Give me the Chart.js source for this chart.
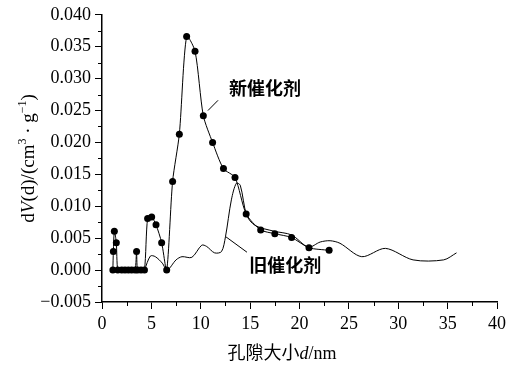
<!DOCTYPE html>
<html>
<head>
<meta charset="utf-8">
<script src="https://cdn.jsdelivr.net/npm/chart.js@4.4.1/dist/chart.umd.min.js"></script>
<style>
    html, body { margin: 0; padding: 0; background: #fff; }
    canvas { display: block; }
</style>
</head>
<body>
<canvas id="poreChart" width="521" height="365"></canvas>
<script>
// 新催化剂 (带点的曲线)
const newX = [1.1, 1.15, 1.25, 1.45, 1.6, 2.0, 2.33, 2.67, 3.0, 3.35, 3.5, 3.6, 3.95, 4.3,
    4.62, 5.03, 5.47, 6.04, 6.55, 7.15, 7.83, 8.57, 9.42, 10.26, 11.2, 12.3, 13.47,
    14.6, 16.07, 17.5, 19.2, 20.96, 23.0];
const newY = [0, 0.0029, 0.0061, 0.0043, 0, 0, 0, 0, 0, 0, 0.0029, 0, 0, 0,
    0.0081, 0.0083, 0.0071, 0.0043, 0, 0.0139, 0.0213, 0.0366, 0.0343, 0.0242, 0.0200, 0.0159, 0.0145,
    0.0088, 0.0063, 0.0057, 0.0051, 0.0035, 0.0031];

// 旧催化剂 (无点的曲线)
const oldX = [4.3, 4.9, 5.4, 6.1, 6.6, 7.5, 8.1, 9.1, 10.1, 10.6, 11.4, 12.1, 12.5, 13.1, 13.6,
    14.0, 14.65, 15.5, 17.4, 19.2, 20.9, 22.1, 23.1, 24.1, 26.3, 28.7, 31.5, 34.6, 35.9];
const oldY = [0, 0.0022, 0.0021, 0.0011, 0, 0.0016, 0.0021, 0.0020, 0.0039, 0.0037, 0.0027, 0.0029, 0.0052, 0.0110, 0.0136,
    0.0133, 0.0086, 0.0070, 0.0061, 0.0055, 0.0036, 0.0044, 0.0046, 0.0042, 0.0021, 0.0034, 0.0016, 0.0016, 0.0027];

// 坐标轴范围与刻度
const xRange = [0, 40];
const xStep = 5;
const yRange = [-0.005, 0.040];
const yStep = 0.005;

// 标注文字 (位置用数据坐标)
const newLabel = { text: '新催化剂', x: 16.5, y: 0.0285, lead: [10.73, 0.0250, 11.75, 0.0266] };
const oldLabel = { text: '旧催化剂', x: 18.55, y: 0.0008, lead: [12.56, 0.0052, 14.68, 0.0028] };

const serif = "'Liberation Serif', 'Times New Roman', serif";
const cjk = "'Noto Sans CJK SC', sans-serif";

function toPoints(xs, ys) {
    return xs.map((x, i) => ({ x: x, y: ys[i] }));
}

// 次刻度、轴标题和标注
const extrasPlugin = {
    id: 'extras',
    beforeDraw(chart) {
        const ctx = chart.ctx;
        ctx.save();
        ctx.fillStyle = '#fff';
        ctx.fillRect(0, 0, chart.width, chart.height);
        ctx.restore();
    },
    afterDraw(chart) {
        const ctx = chart.ctx;
        const xs = chart.scales.x;
        const ys = chart.scales.y;
        const area = chart.chartArea;
        ctx.save();
        ctx.strokeStyle = '#000';
        ctx.lineWidth = 1;

        // 次刻度
        ctx.beginPath();
        for (let v = xRange[0] + xStep / 2; v < xRange[1]; v += xStep) {
            const px = Math.round(xs.getPixelForValue(v)) + 0.5;
            ctx.moveTo(px, area.bottom);
            ctx.lineTo(px, area.bottom + 4);
        }
        for (let v = yRange[0] + yStep / 2; v < yRange[1]; v += yStep) {
            const py = Math.round(ys.getPixelForValue(v)) + 0.5;
            ctx.moveTo(area.left, py);
            ctx.lineTo(area.left - 4, py);
        }
        ctx.stroke();

        // 标注
        ctx.fillStyle = '#000';
        ctx.font = 'bold 18px ' + cjk;
        ctx.textAlign = 'center';
        ctx.textBaseline = 'middle';
        [newLabel, oldLabel].forEach(lb => {
            ctx.fillText(lb.text, xs.getPixelForValue(lb.x), ys.getPixelForValue(lb.y));
            ctx.beginPath();
            ctx.moveTo(xs.getPixelForValue(lb.lead[0]), ys.getPixelForValue(lb.lead[1]));
            ctx.lineTo(xs.getPixelForValue(lb.lead[2]), ys.getPixelForValue(lb.lead[3]));
            ctx.stroke();
        });

        // x 轴标题: 孔隙大小d/nm
        const xParts = [
            { t: '孔隙大小', f: '18px ' + cjk },
            { t: 'd', f: 'italic 18px ' + serif },
            { t: '/nm', f: '18px ' + serif }
        ];
        let total = 0;
        xParts.forEach(p => { ctx.font = p.f; p.w = ctx.measureText(p.t).width; total += p.w; });
        let cx = 282 - total / 2;
        ctx.textAlign = 'left';
        ctx.textBaseline = 'alphabetic';
        xParts.forEach(p => { ctx.font = p.f; ctx.fillText(p.t, cx, 359); cx += p.w; });

        // y 轴标题: dV(d)/(cm3 · g-1)
        const yParts = [
            { t: 'd', f: '19px ' + serif, dy: 0 },
            { t: 'V', f: 'italic 19px ' + serif, dy: 0 },
            { t: '(d)/(cm', f: '19px ' + serif, dy: 0 },
            { t: '3', f: '12px ' + serif, dy: -8 },
            { t: ' · g', f: '19px ' + serif, dy: 0 },
            { t: '−1', f: '12px ' + serif, dy: -8 },
            { t: ')', f: '19px ' + serif, dy: 0 }
        ];
        total = 0;
        yParts.forEach(p => { ctx.font = p.f; p.w = ctx.measureText(p.t).width; total += p.w; });
        ctx.translate(34, (area.top + area.bottom) / 2);
        ctx.rotate(-Math.PI / 2);
        cx = -total / 2;
        yParts.forEach(p => { ctx.font = p.f; ctx.fillText(p.t, cx, p.dy); cx += p.w; });

        ctx.restore();
    }
};

const poreChart = new Chart(document.getElementById('poreChart').getContext('2d'), {
    type: 'scatter',
    data: {
        datasets: [{
            label: '旧催化剂',
            data: toPoints(oldX, oldY),
            showLine: true,
            borderColor: '#000',
            borderWidth: 1,
            pointRadius: 0,
            tension: 0.3
        }, {
            label: '新催化剂',
            data: toPoints(newX, newY),
            showLine: true,
            borderColor: '#000',
            backgroundColor: '#000',
            borderWidth: 1,
            pointRadius: 3.5,
            pointBorderWidth: 0,
            tension: 0.25
        }]
    },
    options: {
        responsive: false,
        animation: false,
        layout: { padding: { left: 0, right: 24, top: 14, bottom: 0 } },
        plugins: {
            legend: { display: false },
            tooltip: { enabled: false }
        },
        scales: {
            x: {
                type: 'linear',
                min: xRange[0],
                max: xRange[1],
                afterFit: s => { s.height = 63; },
                border: { display: true, color: '#000', width: 1.5 },
                grid: { drawOnChartArea: false, tickLength: 7, tickColor: '#000', tickWidth: 1 },
                ticks: {
                    stepSize: xStep,
                    color: '#000',
                    padding: 4,
                    font: { family: serif, size: 18 },
                    callback: v => String(v)
                }
            },
            y: {
                type: 'linear',
                min: yRange[0],
                max: yRange[1],
                afterFit: s => { s.width = 102; },
                border: { display: true, color: '#000', width: 1.5 },
                grid: { drawOnChartArea: false, tickLength: 7, tickColor: '#000', tickWidth: 1 },
                ticks: {
                    stepSize: yStep,
                    color: '#000',
                    padding: 4,
                    font: { family: serif, size: 18 },
                    callback: v => v.toFixed(3).replace('-', '−')
                }
            }
        }
    },
    plugins: [extrasPlugin]
});
</script>
</body>
</html>
